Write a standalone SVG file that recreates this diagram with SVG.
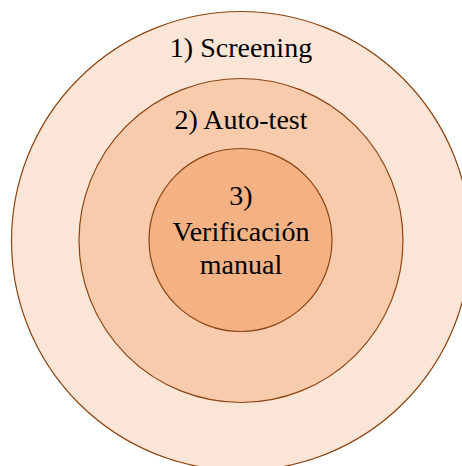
<svg xmlns="http://www.w3.org/2000/svg" width="462" height="466" viewBox="0 0 462 466">
<style>
.ring{stroke:#8B4513;stroke-width:1.2}
.t{font-size:28px;fill:#000;text-anchor:middle}
</style>
<rect width="462" height="466" fill="#fff"/>
<g font-family="'Liberation Serif', 'Times New Roman', 'DejaVu Serif', serif">
<g id="screening">
<circle class="ring" cx="241" cy="241" r="229.5" fill="#FBE5D6"/>
<text class="t" x="241" y="57">1) Screening</text>
</g>
<g id="autotest">
<circle class="ring" cx="241" cy="240.5" r="162" fill="#F8CBAD"/>
<text class="t" x="241" y="129">2) Auto-test</text>
</g>
<g id="verificacion">
<circle class="ring" cx="240.5" cy="240" r="91.5" fill="#F4B183"/>
<text class="t" x="241" y="205">3)</text>
<text class="t" x="241" y="240.5">Verificación</text>
<text class="t" x="241" y="274">manual</text>
</g>
</g>
<g id="connectors"/>
</svg>
